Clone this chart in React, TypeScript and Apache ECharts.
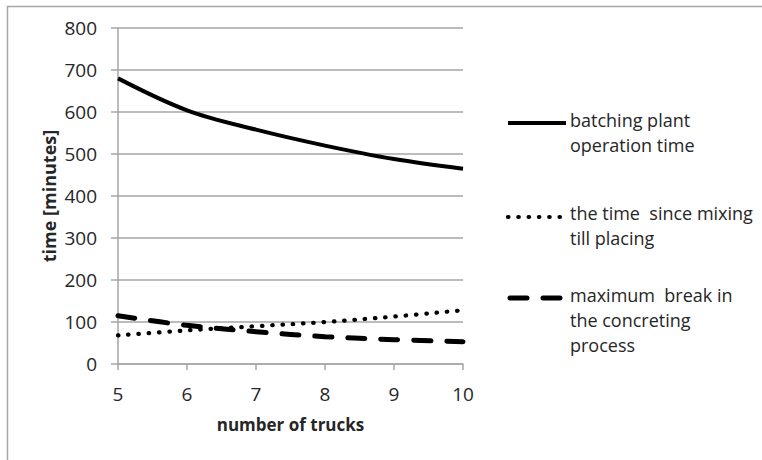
import React, { useEffect, useRef } from "react";
import * as echarts from "echarts";

const trucks = [5, 6, 7, 8, 9, 10];
const batchingPlant = [680, 604, 558, 520, 488, 465];
const mixingToPlacing = [68, 80, 90, 100, 113, 128];
const maxBreak = [115, 92, 77, 65, 58, 53];
const legendNames = [
  "batching plant\noperation time",
  "the time  since mixing\ntill placing",
  "maximum  break in\nthe concreting\nprocess",
];

const FONT = "'Open Sans', 'Noto Sans', sans-serif";
const GRAY = "#a6a6a6";

export default function App() {
  const ref = useRef<HTMLDivElement>(null);
  useEffect(() => {
    document.body.style.margin = "0";
    const chart = echarts.init(ref.current!, null, { renderer: "svg" });
    const pairs = (ys: number[]) => trucks.map((x, i) => [x, ys[i]]);
    const legendY = [123, 217, 298];
    const textY = [120, 213, 295];
    const lineStyles = [
      { stroke: "#000", lineWidth: 4 },
      { stroke: "#000", lineWidth: 4.2, lineDash: [0.5, 9.8], lineCap: "round" },
      { stroke: "#000", lineWidth: 5, lineDash: [17, 16], lineCap: "round" },
    ];
    const legendGraphics: any[] = [];
    legendNames.forEach((name, i) => {
      legendGraphics.push({
        type: "line",
        shape: { x1: i === 2 ? 510 : 508, y1: legendY[i], x2: 566, y2: legendY[i] },
        style: lineStyles[i],
      });
      legendGraphics.push({
        type: "text",
        x: 570,
        y: textY[i] - 12.5,
        style: {
          text: name,
          font: `18px ${FONT}`,
          fill: "#262626",
          lineHeight: 25,
          verticalAlign: "top",
        },
      });
    });
    chart.setOption({
      animation: false,
      backgroundColor: "#fff",
      grid: { left: 118, right: 299, top: 28, bottom: 96 },
      xAxis: {
        type: "value",
        min: 5,
        max: 10,
        interval: 1,
        name: "number of trucks",
        nameLocation: "middle",
        nameGap: 52,
        nameTextStyle: { fontFamily: FONT, fontSize: 17, fontWeight: "bold", color: "#262626" },
        axisLine: { show: true, lineStyle: { color: GRAY, width: 1.5 } },
        axisTick: { show: true, length: 6, lineStyle: { color: GRAY, width: 1.5 } },
        axisLabel: { fontFamily: FONT, fontSize: 19, color: "#262626", margin: 20 },
        splitLine: { show: false },
      },
      yAxis: {
        type: "value",
        min: 0,
        max: 800,
        interval: 100,
        name: "time [minutes]",
        nameLocation: "middle",
        nameGap: 60,
        nameTextStyle: { fontFamily: FONT, fontSize: 18, fontWeight: "bold", color: "#262626" },
        axisLine: { show: true, lineStyle: { color: GRAY, width: 1.5 } },
        axisTick: { show: true, length: 7, lineStyle: { color: GRAY, width: 1.5 } },
        axisLabel: { fontFamily: FONT, fontSize: 19, color: "#262626", margin: 21 },
        splitLine: { show: true, lineStyle: { color: GRAY, width: 1.5 } },
      },
      series: [
        {
          type: "line",
          data: pairs(batchingPlant),
          smooth: 0.35,
          showSymbol: false,
          lineStyle: { color: "#000", width: 4 },
        },
        {
          type: "line",
          data: pairs(mixingToPlacing),
          smooth: 0.35,
          showSymbol: false,
          lineStyle: { color: "#000", width: 4.2, type: [0.5, 9.8], cap: "round" },
        },
        {
          type: "line",
          data: pairs(maxBreak),
          smooth: 0.35,
          showSymbol: false,
          lineStyle: { color: "#000", width: 5, type: [17, 16], cap: "round" },
        },
      ],
      graphic: [
        {
          type: "polyline",
          shape: { points: [[7.5, 460], [7.5, 6.5], [762, 6.5]] },
          style: { stroke: GRAY, lineWidth: 1.5, fill: "none" },
        },
        ...legendGraphics,
      ],
    });
    return () => chart.dispose();
  }, []);
  return <div ref={ref} style={{ width: 762, height: 460 }} />;
}
